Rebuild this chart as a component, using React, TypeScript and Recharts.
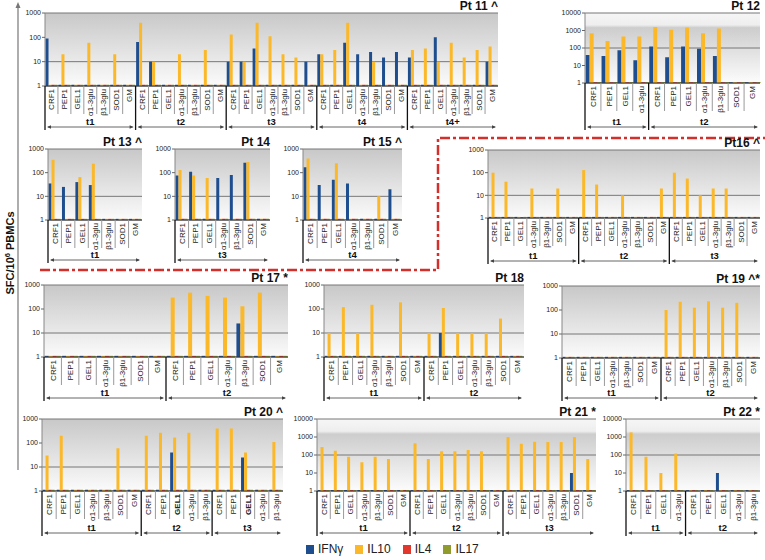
import { Bar, BarChart, CartesianGrid, XAxis, YAxis } from "recharts";

const BLUE = "#1f4e8f";
const ORANGE = "#fbb829";
const RED = "#e2372d";
const OLIVE = "#8f9b2c";
const FLOOR = 1.12; // zero responses drawn as tiny stubs on the log axis
const FONT = "'Liberation Sans', Arial, sans-serif";

// antigen sets
const A7 = ["CRF1", "PEP1", "GEL1", "α1-3glu", "β1-3glu", "SOD1", "GM"];
const A5 = ["CRF1", "PEP1", "GEL1", "α1-3glu", "β1-3glu"];
const A4 = ["CRF1", "PEP1", "GEL1", "α1-3glu"];
const Z7 = [0, 0, 0, 0, 0, 0, 0];
const Z5 = [0, 0, 0, 0, 0];
const Z4 = [0, 0, 0, 0];

// Pt 11
const pt11Groups = ["t1", "t2", "t3", "t4", "t4+"];
const pt11Sizes = [7, 7, 7, 7, 7];
const pt11Cats = [...A7, ...A7, ...A7, ...A7, ...A7];
const pt11Ifn = [90, 0, 0, 0, 0, 0, 0, 65, 10, 0, 0, 0, 0, 0, 10, 10, 35, 0, 0, 0, 10, 20, 0, 60, 20, 25, 15, 25, 15, 0, 100, 0, 0, 0, 10];
const pt11Il10 = [0, 20, 0, 60, 0, 20, 0, 400, 10, 0, 20, 0, 30, 0, 130, 10, 400, 110, 20, 15, 0, 20, 30, 400, 0, 10, 0, 0, 30, 35, 10, 60, 15, 30, 42];
const pt11Il4 = [...Z7, ...Z7, ...Z7, ...Z7, ...Z7];
const pt11Il17 = [...Z7, ...Z7, ...Z7, ...Z7, ...Z7];

// Pt 12
const pt12Groups = ["t1", "t2"];
const pt12Sizes = [4, 7];
const pt12Cats = [...A4, ...A7];
const pt12Ifn = [40, 35, 75, 20, 120, 30, 120, 90, 35, 0, 0];
const pt12Il10 = [700, 250, 450, 450, 1600, 1100, 1500, 700, 1300, 0, 0];
const pt12Il4 = [...Z4, ...Z7];
const pt12Il17 = [...Z4, ...Z7];

// Pt 13
const pt13Groups = ["t1"];
const pt13Sizes = [7];
const pt13Cats = [...A7];
const pt13Ifn = [35, 25, 40, 30, 0, 0, 0];
const pt13Il10 = [350, 0, 65, 240, 0, 0, 0];

// Pt 14
const pt14Groups = ["t3"];
const pt14Sizes = [7];
const pt14Cats = [...A7];
const pt14Ifn = [75, 110, 0, 60, 80, 260, 0];
const pt14Il10 = [130, 75, 60, 0, 0, 280, 0];

// Pt 15
const pt15Groups = ["t4"];
const pt15Sizes = [7];
const pt15Cats = [...A7];
const pt15Ifn = [170, 30, 50, 35, 0, 0, 20];
const pt15Il10 = [400, 0, 250, 0, 0, 10, 0];

// Pt 16
const pt16Groups = ["t1", "t2", "t3"];
const pt16Sizes = [7, 7, 7];
const pt16Cats = [...A7, ...A7, ...A7];
const pt16Ifn = [...Z7, ...Z7, ...Z7];
const pt16Il10 = [100, 40, 0, 20, 0, 20, 0, 130, 30, 0, 10, 0, 0, 20, 100, 55, 10, 20, 20, 0, 0];

// Pt 17
const pt17Groups = ["t1", "t2"];
const pt17Sizes = [7, 7];
const pt17Cats = [...A7, ...A7];
const pt17Ifn = [...Z7, 0, 0, 0, 0, 25, 0, 0];
const pt17Il10 = [...Z7, 300, 480, 350, 300, 130, 480, 0];

// Pt 18
const pt18Groups = ["t1", "t2"];
const pt18Sizes = [7, 7];
const pt18Cats = [...A7, ...A7];
const pt18Ifn = [...Z7, 0, 10, 0, 0, 0, 0, 0];
const pt18Il10 = [10, 120, 10, 150, 0, 190, 0, 10, 110, 10, 10, 10, 40, 0];

// Pt 19
const pt19Groups = ["t1", "t2"];
const pt19Sizes = [7, 7];
const pt19Cats = [...A7, ...A7];
const pt19Ifn = [...Z7, ...Z7];
const pt19Il10 = [...Z7, 100, 220, 125, 230, 125, 200, 0];

// Pt 20
const pt20Groups = ["t1", "t2", "t3"];
const pt20Sizes = [7, 5, 5];
const pt20Cats = [...A7, ...A5, ...A5];
const pt20Ifn = [...Z7, 0, 0, 40, 0, 0, 0, 0, 25, 0, 0];
const pt20Il10 = [30, 200, 0, 0, 0, 60, 0, 200, 270, 170, 270, 0, 400, 400, 40, 0, 110];
const pt20Il4 = [...Z7, ...Z5, ...Z5];

// Pt 21
const pt21Groups = ["t1", "t2", "t3"];
const pt21Sizes = [7, 7, 7];
const pt21Cats = [...A7, ...A7, ...A7];
const pt21Ifn = [...Z7, ...Z7, 0, 0, 0, 0, 0, 10, 0];
const pt21Il10 = [280, 170, 80, 40, 80, 60, 0, 450, 60, 160, 160, 190, 160, 0, 1000, 420, 550, 520, 520, 1000, 60];

// Pt 22
const pt22Groups = ["t1", "t2"];
const pt22Sizes = [4, 5];
const pt22Cats = [...A4, ...A5];
const pt22Ifn = [...Z4, 0, 0, 10, 0, 0];
const pt22Il10 = [1800, 80, 10, 120, ...Z5];
const pt22Il4 = [...Z4, ...Z5];

type PanelDef = {
  title: string;
  groups: string[];
  sizes: number[];
  cats: string[];
  ifn: number[];
  il10: number[];
  il4: number[];
  il17: number[];
  yMax: number;
  bold?: number[];
  // layout
  x0: number;
  x1: number;
  yTop: number;
  yBot: number;
  groupY: number;
};

const panels: PanelDef[] = [
  { title: "Pt 11 ^", groups: pt11Groups, sizes: pt11Sizes, cats: pt11Cats, ifn: pt11Ifn, il10: pt11Il10, il4: pt11Il4, il17: pt11Il17, yMax: 1000, x0: 45, x1: 498, yTop: 13, yBot: 86, groupY: 127 },
  { title: "Pt 12", groups: pt12Groups, sizes: pt12Sizes, cats: pt12Cats, ifn: pt12Ifn, il10: pt12Il10, il4: pt12Il4, il17: pt12Il17, yMax: 10000, x0: 585, x1: 760, yTop: 13, yBot: 83, groupY: 127 },
  { title: "Pt 13 ^", groups: pt13Groups, sizes: pt13Sizes, cats: pt13Cats, ifn: pt13Ifn, il10: pt13Il10, il4: Z7, il17: Z7, yMax: 1000, x0: 48, x1: 142, yTop: 149, yBot: 220, groupY: 260 },
  { title: "Pt 14", groups: pt14Groups, sizes: pt14Sizes, cats: pt14Cats, ifn: pt14Ifn, il10: pt14Il10, il4: Z7, il17: Z7, yMax: 1000, x0: 175, x1: 270, yTop: 149, yBot: 220, groupY: 260 },
  { title: "Pt 15 ^", groups: pt15Groups, sizes: pt15Sizes, cats: pt15Cats, ifn: pt15Ifn, il10: pt15Il10, il4: Z7, il17: Z7, yMax: 1000, x0: 303, x1: 402, yTop: 149, yBot: 220, groupY: 260 },
  { title: "Pt16 ^", groups: pt16Groups, sizes: pt16Sizes, cats: pt16Cats, ifn: pt16Ifn, il10: pt16Il10, il4: pt16Ifn, il17: pt16Ifn, yMax: 1000, x0: 488, x1: 760, yTop: 150, yBot: 218, groupY: 261 },
  { title: "Pt 17 *", groups: pt17Groups, sizes: pt17Sizes, cats: pt17Cats, ifn: pt17Ifn, il10: pt17Il10, il4: pt19Ifn, il17: pt19Ifn, yMax: 1000, x0: 44, x1: 288, yTop: 285, yBot: 357, groupY: 398 },
  { title: "Pt 18", groups: pt18Groups, sizes: pt18Sizes, cats: pt18Cats, ifn: pt18Ifn, il10: pt18Il10, il4: pt19Ifn, il17: pt19Ifn, yMax: 1000, x0: 324, x1: 524, yTop: 285, yBot: 357, groupY: 398 },
  { title: "Pt 19 ^*", groups: pt19Groups, sizes: pt19Sizes, cats: pt19Cats, ifn: pt19Ifn, il10: pt19Il10, il4: pt19Ifn, il17: pt19Ifn, yMax: 1000, x0: 562, x1: 760, yTop: 286, yBot: 358, groupY: 398 },
  { title: "Pt 20 ^", groups: pt20Groups, sizes: pt20Sizes, cats: pt20Cats, ifn: pt20Ifn, il10: pt20Il10, il4: pt20Il4, il17: pt20Il4, yMax: 1000, bold: [9, 14], x0: 42, x1: 283, yTop: 419, yBot: 491, groupY: 533 },
  { title: "Pt 21 *", groups: pt21Groups, sizes: pt21Sizes, cats: pt21Cats, ifn: pt21Ifn, il10: pt21Il10, il4: pt16Ifn, il17: pt16Ifn, yMax: 10000, x0: 317, x1: 596, yTop: 419, yBot: 491, groupY: 533 },
  { title: "Pt 22 *", groups: pt22Groups, sizes: pt22Sizes, cats: pt22Cats, ifn: pt22Ifn, il10: pt22Il10, il4: pt22Il4, il17: pt22Il4, yMax: 10000, x0: 626, x1: 760, yTop: 419, yBot: 491, groupY: 533 },
];

const legendItems = [
  { label: "IFNγ", color: BLUE },
  { label: "IL10", color: ORANGE },
  { label: "IL4", color: RED },
  { label: "IL17", color: OLIVE },
];

const Y_W = 30;
const M_TOP = 6;

function makeTick(p: PanelDef, bw: number) {
  const starts: number[] = [];
  let acc = 0;
  p.sizes.forEach((s) => {
    starts.push(acc);
    acc += s;
  });
  const total = acc;
  const depth = p.groupY - p.yBot;

  return (props: any) => {
    const { x, y, payload } = props;
    const i = Number(payload.value);
    const left = x - bw / 2;
    const right = x + bw / 2;
    const gi = starts.indexOf(i);
    const lastInGroup = starts.includes(i + 1) || i === total - 1;
    const gw = gi >= 0 ? p.sizes[gi] * bw : 0;
    return (
      <g>
        <text
          transform={`translate(${x + 3},${y + 3}) rotate(-90)`}
          textAnchor="end"
          fontSize={8}
          fontWeight={p.bold && p.bold.includes(i) ? 700 : 400}
          fill="#222"
          fontFamily={FONT}
        >
          {p.cats[i]}
        </text>
        {!lastInGroup && (
          <line x1={right} x2={right} y1={y} y2={y + 28} stroke="#9a9a9a" strokeWidth={1} />
        )}
        {gi >= 0 && (
          <g>
            <line x1={left} x2={left} y1={y} y2={y + depth + 3} stroke="#111" strokeWidth={1.3} />
            <line x1={left + 3} x2={left + gw - 3} y1={y + depth} y2={y + depth} stroke="#666" strokeWidth={1} />
            <polygon
              points={`${left + 2},${y + depth} ${left + 6},${y + depth - 1.8} ${left + 6},${y + depth + 1.8}`}
              fill="#444"
            />
            <polygon
              points={`${left + gw - 2},${y + depth} ${left + gw - 6},${y + depth - 1.8} ${left + gw - 6},${y + depth + 1.8}`}
              fill="#444"
            />
            <text
              x={left + gw / 2}
              y={y + depth - 2}
              textAnchor="middle"
              fontSize={9.5}
              fontWeight={700}
              fill="#111"
              fontFamily={FONT}
            >
              {p.groups[gi]}
            </text>
          </g>
        )}
      </g>
    );
  };
}

function Panel({ p, n }: { p: PanelDef; n: number }) {
  const plotW = p.x1 - p.x0;
  const bw = plotW / p.cats.length;
  const xH = p.groupY + 6 - p.yBot;
  const width = plotW + Y_W + 2;
  const height = M_TOP + (p.yBot - p.yTop) + xH;
  const rows = p.cats.map((c, i) => ({
    idx: i,
    cat: c,
    ifn: Math.max(p.ifn[i], FLOOR),
    il10: Math.max(p.il10[i], FLOOR),
    il4: Math.max(p.il4[i], FLOOR),
    il17: Math.max(p.il17[i], FLOOR),
  }));
  const ticks = p.yMax === 10000 ? [1, 10, 100, 1000, 10000] : [1, 10, 100, 1000];
  const gid = `bg${n}`;

  return (
    <div style={{ position: "absolute", left: p.x0 - Y_W, top: p.yTop - M_TOP }}>
      <div
        style={{
          position: "absolute",
          left: Y_W + plotW - 120,
          width: 120,
          top: M_TOP - 13,
          textAlign: "right",
          fontSize: 12,
          fontWeight: 700,
          lineHeight: "12px",
          color: "#111",
          fontFamily: FONT,
          zIndex: 2,
        }}
      >
        {p.title}
      </div>
      <BarChart
        width={width}
        height={height}
        data={rows}
        margin={{ top: M_TOP, right: 2, left: 0, bottom: 0 }}
        barCategoryGap="4%"
        barGap={0}
      >
        <defs>
          {p.yMax === 10000 ? (
            <linearGradient id={gid} x1="0" y1="0" x2="0" y2="1">
              <stop offset="0" stopColor="#f6f6f6" />
              <stop offset="0.17" stopColor="#eeeeee" />
              <stop offset="0.21" stopColor="#cdcdcd" />
              <stop offset="1" stopColor="#fcfcfc" />
            </linearGradient>
          ) : (
            <linearGradient id={gid} x1="0" y1="0" x2="0" y2="1">
              <stop offset="0" stopColor="#c8c8c8" />
              <stop offset="1" stopColor="#fbfbfb" />
            </linearGradient>
          )}
        </defs>
        <CartesianGrid vertical={false} stroke="#777" fill={`url(#${gid})`} fillOpacity={1} />
        <XAxis
          dataKey="idx"
          type="category"
          interval={0}
          height={xH}
          tickSize={0}
          tickMargin={0}
          tickLine={false}
          axisLine={{ stroke: "#333", strokeWidth: 1 }}
          tick={makeTick(p, bw)}
        />
        <YAxis
          scale="log"
          type="number"
          domain={[1, p.yMax]}
          ticks={ticks}
          allowDataOverflow
          width={Y_W}
          tickSize={3}
          tickMargin={1}
          tick={{ fontSize: 7, fill: "#222", fontFamily: FONT }}
          axisLine={{ stroke: "#888" }}
          tickLine={{ stroke: "#666" }}
        />
        <Bar dataKey="ifn" fill={BLUE} isAnimationActive={false} />
        <Bar dataKey="il10" fill={ORANGE} isAnimationActive={false} />
        <Bar dataKey="il4" fill={RED} isAnimationActive={false} />
        <Bar dataKey="il17" fill={OLIVE} isAnimationActive={false} />
      </BarChart>
    </div>
  );
}

export default function App() {
  return (
    <div
      style={{
        position: "absolute",
        left: 0,
        top: 0,
        width: 765,
        height: 560,
        background: "#fff",
        overflow: "hidden",
        fontFamily: FONT,
      }}
    >
      <svg width={765} height={560} style={{ position: "absolute", left: 0, top: 0 }}>
        <line x1={18} x2={18} y1={6} y2={470} stroke="#777" strokeWidth={1.2} />
        <polygon points="18,2 15.5,8 20.5,8" fill="#777" />
        <text
          transform="translate(14,253) rotate(-90)"
          textAnchor="middle"
          fontSize={11}
          fontWeight={700}
          fill="#111"
          fontFamily={FONT}
        >
          SFC/10
          <tspan fontSize={7.5} dy={-4}>6</tspan>
          <tspan dy={4}> PBMCs</tspan>
        </text>
        <polyline
          points="40,270 438,270 438,138 765,138"
          fill="none"
          stroke="#d3302c"
          strokeWidth={2.5}
          strokeDasharray="10 3 3 3"
        />
      </svg>
      {panels.map((p, n) => (
        <Panel key={p.title} p={p} n={n} />
      ))}
      <div
        style={{
          position: "absolute",
          left: 306,
          top: 542,
          display: "flex",
          alignItems: "center",
          fontSize: 12,
          color: "#222",
        }}
      >
        {legendItems.map((it) => (
          <div key={it.label} style={{ display: "flex", alignItems: "center", marginRight: 12 }}>
            <span style={{ width: 8, height: 9, background: it.color, display: "inline-block", marginRight: 4 }} />
            <span>{it.label}</span>
          </div>
        ))}
      </div>
    </div>
  );
}
